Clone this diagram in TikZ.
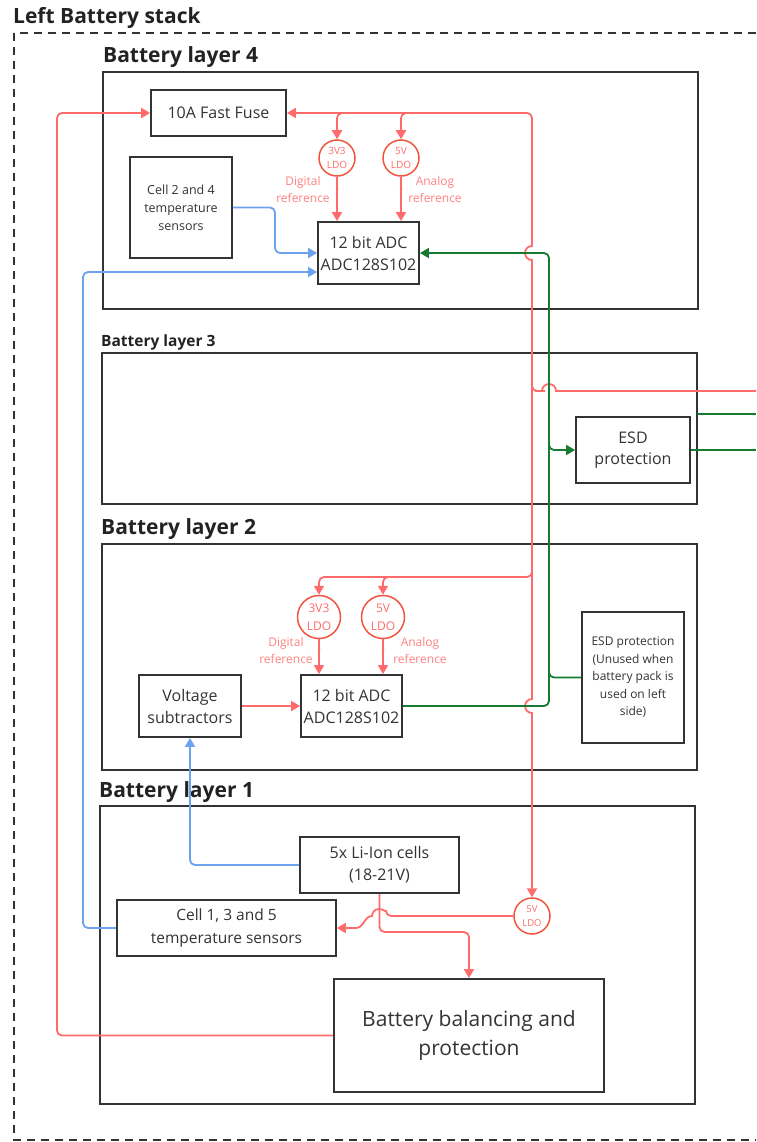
\documentclass[tikz,border=0pt]{standalone}
\usepackage{fontspec}
\setmainfont{Open Sans}
\usetikzlibrary{arrows.meta}
\definecolor{redl}{HTML}{FF6B6B}
\definecolor{ldoc}{HTML}{F2553F}
\definecolor{bluel}{HTML}{6CA2F0}
\definecolor{greenl}{HTML}{167A30}
\definecolor{boxc}{HTML}{333333}
\definecolor{txt}{HTML}{333333}
\definecolor{titc}{HTML}{222222}
\begin{document}
\begin{tikzpicture}[x=1pt,y=1pt,
 box/.style={draw=boxc, line width=1.8pt, align=center, text=txt, inner sep=2pt, font=\fontsize{16}{22}\selectfont},
 layer/.style={draw=boxc, line width=1.8pt},
 ldo/.style={circle, draw=ldoc, line width=1.5pt, text=redl, align=center, inner sep=0pt, font=\fontsize{10}{14}\selectfont},
 wire/.style={line width=1.8pt, rounded corners=5pt},
 rw/.style={wire, draw=redl},
 bw/.style={wire, draw=bluel},
 gw/.style={wire, draw=greenl},
 tip/.style={-{Triangle[length=9pt,width=10pt]}},
 reflbl/.style={text=redl!85!white, align=center, font=\fontsize{12}{17}\selectfont, inner sep=0pt},
 ttl/.style={anchor=west, text=titc, font=\fontsize{21}{24}\selectfont\bfseries, inner sep=0pt},
 dotm/.style={circle, fill=redl, inner sep=0pt, minimum size=3pt}
]
\useasboundingbox (0,0) rectangle (756,-1142);
\clip (0,0) rectangle (756,-1142);

% outer dashed stack
\draw[draw=boxc, line width=1.5pt, dash pattern=on 8pt off 6pt] (14,-33) rectangle (790,-1140);
\node[ttl] (stack) at (13,-18) {Left Battery stack};

% layer boxes
\draw[layer] (103,-72) rectangle (698,-309);
\draw[layer] (102,-353) rectangle (697,-504);
\draw[layer] (102,-544) rectangle (697,-770);
\draw[layer] (100,-806) rectangle (695,-1104);
\node[ttl] (t4) at (103,-57) {Battery layer 4};
\node[ttl, font=\fontsize{15.5}{18}\selectfont\bfseries] (t3) at (101,-342) {Battery layer 3};
\node[ttl] (t2) at (101,-529) {Battery layer 2};
\node[ttl] (t1) at (99,-792) {Battery layer 1};

% layer 4
\node[box, minimum width=135pt, minimum height=46pt, font=\fontsize{16}{20}\selectfont] (fuse) at (218.5,-113) {10A Fast Fuse};
\node[box, minimum width=102pt, minimum height=101pt, font=\fontsize{12.5}{18}\selectfont] (cell24) at (181,-207.5) {Cell 2 and 4\\temperature\\sensors};
\node[ldo, minimum size=36pt] (ldo4a) at (337,-158) {3V3\\LDO};
\node[ldo, minimum size=36pt] (ldo4b) at (401,-158) {5V\\LDO};
\node[box, minimum width=101pt, minimum height=62pt] (adc4) at (368.5,-253) {12 bit ADC\\ADC128S102};

% layer 3
\node[box, minimum width=114pt, minimum height=66pt, font=\fontsize{16}{21.5}\selectfont] (esd3) at (633,-450) {ESD\\protection};

% layer 2
\node[ldo, minimum size=43pt, font=\fontsize{12}{18}\selectfont] (ldo2a) at (319,-617) {3V3\\LDO};
\node[ldo, minimum size=43pt, font=\fontsize{12}{18}\selectfont] (ldo2b) at (383,-617) {5V\\LDO};
\node[box, minimum width=101pt, minimum height=62pt] (adc2) at (351.5,-706) {12 bit ADC\\ADC128S102};
\node[box, minimum width=102pt, minimum height=62pt] (vsub) at (190,-706) {Voltage\\subtractors};
\node[box, minimum width=102pt, minimum height=131pt, font=\fontsize{12}{17.5}\selectfont] (esd2) at (633,-677.5) {ESD protection\\(Unused when\\battery pack is\\used on left\\side)};

% layer 1
\node[box, minimum width=159pt, minimum height=56pt] (cells) at (379.5,-865) {5x Li-Ion cells\\(18-21V)};
\node[box, minimum width=219pt, minimum height=56pt, font=\fontsize{15.5}{22.5}\selectfont] (temp) at (226.5,-928) {Cell 1, 3 and 5\\temperature sensors};
\node[ldo, minimum size=36pt, font=\fontsize{9.5}{14}\selectfont] (ldo1) at (532,-916) {5V\\LDO};
\node[box, minimum width=270pt, minimum height=113pt, font=\fontsize{21}{29}\selectfont] (bbp) at (469,-1035.5) {Battery balancing and\\protection};

% ---------- red power wiring
\draw[rw, tip] (bbp.west) -- (57,-1035.5) -- (57,-113) -- (fuse.west);
\draw[rw, {Triangle[length=9pt,width=10pt]}-{Triangle[length=9pt,width=10pt]}]
  (fuse.east) -- (532,-113) [sharp corners] -- (532,-246) arc[start angle=90,end angle=270,radius=7]
  -- (532,-699) arc[start angle=90,end angle=270,radius=7] -- (ldo1.north);
\draw[rw] (532,-378) -- (532,-391) -- (540,-391) [sharp corners] -- (542,-391) arc[start angle=180,end angle=0,radius=7] -- (756,-391);
\draw[rw, tip] (352,-113) -| (ldo4a.north);
\draw[rw, tip] (416,-113) -| (ldo4b.north);
\draw[rw, tip] (ldo4a.south) -- (ldo4a.south |- adc4.north);
\draw[rw, tip] (ldo4b.south) -- (ldo4b.south |- adc4.north);
\node[dotm] (d4a) at (337,-189) {};
\node[dotm] (d4b) at (401,-189) {};
\node[reflbl] (lab4a) at (303,-189) {Digital\\reference};
\node[reflbl] (lab4b) at (435,-189) {Analog\\reference};

\draw[rw, tip] (532,-560) -- (532,-577) -| (ldo2a.north);
\draw[rw, tip] (398,-577) -| (ldo2b.north);
\draw[rw, tip] (ldo2a.south) -- (ldo2a.south |- adc2.north);
\draw[rw, tip] (ldo2b.south) -- (ldo2b.south |- adc2.north);
\node[dotm] (d2a) at (319,-649) {};
\node[dotm] (d2b) at (383,-649) {};
\node[reflbl] (lab2a) at (286,-650) {Digital\\reference};
\node[reflbl] (lab2b) at (420,-650) {Analog\\reference};
\draw[rw, tip] (vsub.east) -- (adc2.west);

\draw[rw, tip] (ldo1.west) -- (386,-916) [sharp corners] arc[start angle=0,end angle=180,radius=7]
  to[out=180,in=0] (356,-928) -- (temp.east);
\draw[rw, tip] (cells.south) -- (379.5,-932) -| (bbp.north);

% ---------- blue sensor wiring
\draw[bw, tip] (cell24.east) -- (275,-207.5) |- (adc4.west);
\draw[bw, tip] (temp.west) -- (83,-928) |- ([yshift=-19pt]adc4.west);
\draw[bw, tip] (cells.west) -| (vsub.south);

% ---------- green data wiring
\draw[gw, tip] (adc2.east) -- (549,-706) -- (549,-253) -- (adc4.east);
\draw[gw, tip] (549,-438) |- (esd3.west);
\draw[gw] (549,-665) |- (esd2.west);
\draw[gw] (esd3.east) -- (756,-450);
\draw[gw] (697,-414) -- (756,-414);
\end{tikzpicture}
\end{document}
